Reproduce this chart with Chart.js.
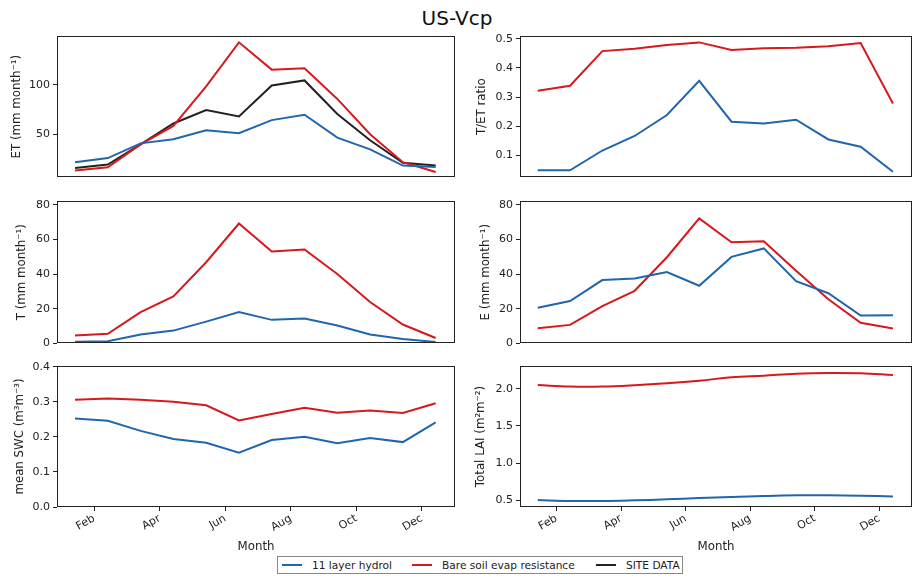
<!DOCTYPE html>
<html>
<head>
<meta charset="utf-8">
<script src="https://cdn.jsdelivr.net/npm/chart.js@4.4.1/dist/chart.umd.min.js"></script>
<style>
  body { margin: 0; background: #fff; font-family: "DejaVu Sans", sans-serif; }
  #fig { position: relative; width: 914px; height: 579px; overflow: hidden; }
  .panel { position: absolute; }
  #title { position: absolute; left: 0; width: 914px; top: 6px; text-align: center; font-size: 20px; color: #111; line-height: 24px; }
  #legend { position: absolute; left: 277px; top: 556px; width: 404px; height: 16px; border: 1px solid #888;
            font-size: 10.6px; color: #222; white-space: nowrap; }
  #legend .item { position: absolute; top: 0; height: 16px; display: flex; align-items: center; }
  #legend .swatch { width: 20px; height: 2px; margin-right: 10px; }
</style>
</head>
<body>
<div id="fig">
  <div id="title">US-Vcp</div>
  <div id="legend"></div>
</div>
<script>
// data
const months = ['Jan', 'Feb', 'Mar', 'Apr', 'May', 'Jun', 'Jul', 'Aug', 'Sep', 'Oct', 'Nov', 'Dec'];
const tickMonths = [1, 3, 5, 7, 9, 11];
const tickLabels = ['Feb', 'Apr', 'Jun', 'Aug', 'Oct', 'Dec'];
const seriesNames = ['11 layer hydrol', 'Bare soil evap resistance', 'SITE DATA'];
const seriesColors = ['#2166ac', '#d7191c', '#222222'];

const etHydro = [21.8, 25.9, 40.8, 44.9, 54.1, 51.0, 64.3, 69.7, 46.6, 34.7, 18.4, 17.0];
const etBare  = [13.3, 16.7, 39.8, 58.5, 98.3, 142.9, 115.3, 116.7, 85.7, 50.0, 21.8, 11.9];
const etSite  = [16.0, 19.4, 39.8, 60.9, 74.5, 68.0, 99.3, 104.4, 70.4, 43.9, 21.1, 18.4];

const tetHydro = [0.048, 0.048, 0.116, 0.166, 0.238, 0.356, 0.215, 0.209, 0.222, 0.154, 0.129, 0.043];
const tetBare  = [0.322, 0.339, 0.458, 0.466, 0.479, 0.488, 0.462, 0.468, 0.470, 0.475, 0.486, 0.278];

const tHydro = [1.0, 1.2, 5.1, 7.4, 12.6, 18.1, 13.6, 14.4, 10.3, 5.1, 2.5, 0.8];
const tBare  = [4.5, 5.6, 18.1, 27.2, 46.9, 69.3, 53.1, 54.3, 40.1, 23.9, 10.9, 3.1];

const eHydro = [20.6, 24.5, 36.6, 37.5, 41.2, 33.3, 50.0, 54.9, 36.0, 29.0, 16.1, 16.3];
const eBare  = [8.8, 10.7, 21.6, 30.4, 49.8, 72.2, 58.4, 59.1, 42.0, 25.5, 11.9, 8.6];

const swcHydro = [0.252, 0.246, 0.217, 0.194, 0.183, 0.155, 0.191, 0.200, 0.182, 0.197, 0.185, 0.241];
const swcBare  = [0.306, 0.309, 0.306, 0.300, 0.290, 0.247, 0.265, 0.283, 0.269, 0.275, 0.268, 0.296];

const laiHydro = [0.500, 0.487, 0.487, 0.496, 0.509, 0.527, 0.540, 0.554, 0.563, 0.563, 0.558, 0.549];
const laiBare  = [2.054, 2.032, 2.032, 2.050, 2.077, 2.112, 2.157, 2.180, 2.206, 2.216, 2.211, 2.189];

const font = { family: 'DejaVu Sans', size: 11 };
const titleFont = { family: 'DejaVu Sans', size: 11.8 };
const ink = '#222';

// months sit roughly mid-month on a date axis (1 unit = 1 month, 0 = Jan 1)
const midMonth = 0.42;

const frame = {
  id: 'frame',
  afterDraw(chart) {
    const a = chart.chartArea;
    const ctx = chart.ctx;
    ctx.save();
    ctx.strokeStyle = ink;
    ctx.lineWidth = 1;
    ctx.strokeRect(Math.round(a.left) + 0.5, Math.round(a.top) + 0.5,
                   Math.round(a.right - a.left) - 1, Math.round(a.bottom - a.top) - 1);
    ctx.restore();
  }
};

function makePanel(p) {
  const div = document.createElement('div');
  div.className = 'panel';
  div.style.left = p.x + 'px';
  div.style.top = p.y + 'px';
  const canvas = document.createElement('canvas');
  canvas.width = p.w;
  canvas.height = p.h;
  canvas.style.width = p.w + 'px';
  canvas.style.height = p.h + 'px';
  div.appendChild(canvas);
  document.getElementById('fig').appendChild(div);

  const datasets = p.series.map(function (s) {
    return {
      label: seriesNames[s.i],
      data: s.values.map((v, k) => ({ x: k + midMonth, y: v })),
      borderColor: seriesColors[s.i],
      backgroundColor: seriesColors[s.i],
      borderWidth: 2,
      pointRadius: 0,
      tension: p.tension || 0,
      fill: false
    };
  });

  new Chart(canvas, {
    type: 'line',
    data: { datasets: datasets },
    options: {
      responsive: false,
      animation: false,
      layout: { padding: p.padding },
      plugins: { legend: { display: false }, tooltip: { enabled: false } },
      scales: {
        x: {
          type: 'linear',
          min: -0.13,
          max: 12.01,
          display: p.showX,
          grid: { display: true, drawOnChartArea: false, drawTicks: true, tickLength: 4, color: ink },
          border: { display: false },
          afterBuildTicks: s => { s.ticks = tickMonths.map(v => ({ value: v })); },
          afterFit: s => { s.height = p.showX ? 50 : 0; },
          ticks: {
            font: font, color: ink, padding: 1,
            maxRotation: 30, minRotation: 30, autoSkip: false,
            callback: (v, idx) => tickLabels[idx]
          },
          title: { display: true, text: 'Month', font: titleFont, color: ink, padding: { top: 0, bottom: 3 } }
        },
        y: {
          min: p.yMin,
          max: p.yMax,
          grid: { display: true, drawOnChartArea: false, drawTicks: true, tickLength: 4, color: ink },
          border: { display: false },
          afterBuildTicks: s => { s.ticks = p.yTicks.map(v => ({ value: v })); },
          afterFit: s => { s.width = p.axisW; },
          ticks: {
            font: font, color: ink, padding: 3,
            callback: v => v.toFixed(p.dec)
          },
          title: { display: true, text: p.yTitle, font: titleFont, color: ink, padding: { top: p.titlePad - 0.5, bottom: 0 } }
        }
      }
    },
    plugins: [frame]
  });
}

// left column: canvas 0..460, plot 57..455 ; right column: canvas 460..914, plot 520..912
const L = { x: 0, w: 460, axisW: 57, pr: 5 };
const R = { x: 460, w: 454, axisW: 60, pr: 2 };
const rows = [
  { y: 26, h: 161, pt: 10, pb: 8, showX: false },
  { y: 191, h: 162, pt: 10, pb: 8, showX: false },
  { y: 356, h: 201, pt: 10, pb: 0, showX: true }
];

const panels = [
  { c: L, r: 0, yTitle: 'ET (mm month\u207B\u00B9)', titlePad: 10.4, yMin: 6.4, yMax: 149.3, yTicks: [50, 100], dec: 0,
    series: [{ i: 0, values: etHydro }, { i: 1, values: etBare }, { i: 2, values: etSite }] },
  { c: R, r: 0, yTitle: 'T/ET ratio', titlePad: 15.4, yMin: 0.0235, yMax: 0.510, yTicks: [0.1, 0.2, 0.3, 0.4, 0.5], dec: 1,
    series: [{ i: 0, values: tetHydro }, { i: 1, values: tetBare }] },
  { c: L, r: 1, yTitle: 'T (mm month\u207B\u00B9)', titlePad: 15.4, yMin: 0, yMax: 82.3, yTicks: [0, 20, 40, 60, 80], dec: 0,
    series: [{ i: 0, values: tHydro }, { i: 1, values: tBare }] },
  { c: R, r: 1, yTitle: 'E (mm month\u207B\u00B9)', titlePad: 19.4, yMin: 0, yMax: 82.3, yTicks: [0, 20, 40, 60, 80], dec: 0,
    series: [{ i: 0, values: eHydro }, { i: 1, values: eBare }] },
  { c: L, r: 2, yTitle: 'mean SWC (m\u00B3m\u207B\u00B3)', titlePad: 13.4, yMin: 0, yMax: 0.402, yTicks: [0, 0.1, 0.2, 0.3, 0.4], dec: 1,
    series: [{ i: 0, values: swcHydro }, { i: 1, values: swcBare }] },
  { c: R, r: 2, yTitle: 'Total LAI (m\u00B2m\u207B\u00B2)', titlePad: 14.4, yMin: 0.406, yMax: 2.31, yTicks: [0.5, 1.0, 1.5, 2.0], dec: 1,
    tension: 0.4, series: [{ i: 0, values: laiHydro }, { i: 1, values: laiBare }] }
];

panels.forEach(function (p) {
  const row = rows[p.r];
  makePanel({
    x: p.c.x, y: row.y, w: p.c.w, h: row.h,
    axisW: p.c.axisW,
    padding: { top: row.pt, bottom: row.pb, left: 0, right: p.c.pr },
    showX: row.showX,
    yTitle: p.yTitle, titlePad: p.titlePad,
    yMin: p.yMin, yMax: p.yMax, yTicks: p.yTicks, dec: p.dec,
    tension: p.tension, series: p.series
  });
});

// shared legend under the figure
const legend = document.getElementById('legend');
const legendLeft = [4, 134, 318];
seriesNames.forEach(function (name, i) {
  const item = document.createElement('div');
  item.className = 'item';
  item.style.left = legendLeft[i] + 'px';
  const sw = document.createElement('div');
  sw.className = 'swatch';
  sw.style.background = seriesColors[i];
  const label = document.createElement('span');
  label.textContent = name;
  item.appendChild(sw);
  item.appendChild(label);
  legend.appendChild(item);
});
</script>
</body>
</html>
